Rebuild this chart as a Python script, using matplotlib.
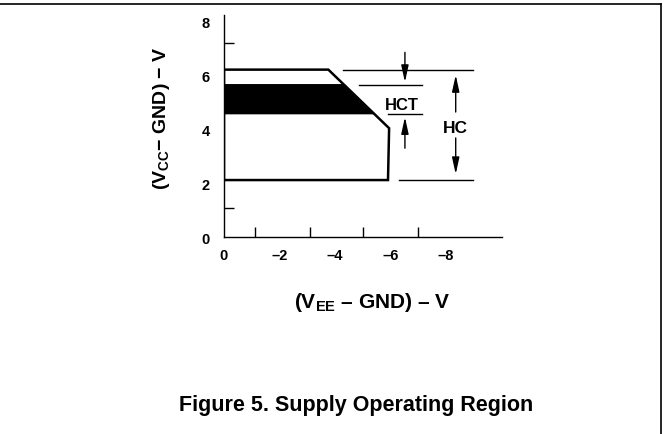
import matplotlib
matplotlib.use("Agg")
from matplotlib import pyplot as plt
from matplotlib import font_manager
from matplotlib.patches import Polygon

# values (V_EE - GND on x, V_CC - GND on y)
hc_x = [0, 0, -3.76, -5.95, -5.91]
hc_y = [2.12, 6.21, 6.21, 4.04, 2.12]
hct_x = [0, 0, -4.33, -5.40]
hct_y = [4.58, 5.65, 5.65, 4.58]

x_labels = [0, -2, -4, -6, -8]
y_labels = [0, 2, 4, 6, 8]
x_ticks = [-1.12, -3.1, -5.0, -7.0]
y_ticks = [1.07, 7.2]

# dimension lines at the right: (y, x start, x end)
dim_lines = [(6.21, -4.29, -8.97), (5.65, -4.86, -7.13), (4.58, -5.91, -7.13), (2.12, -6.31, -8.97)]
# arrows: (x, tail y, tip y)
arrows = [(-6.52, 6.85, 5.75), (-6.52, 3.3, 4.45), (-8.35, 4.64, 6.01), (-8.35, 3.68, 2.34)]

names = [f.name for f in font_manager.fontManager.ttflist]
font = "Liberation Sans Narrow" if "Liberation Sans Narrow" in names else "Liberation Sans"
plt.rcParams["font.family"] = [font, "DejaVu Sans"]
plt.rcParams["mathtext.fontset"] = "custom"
plt.rcParams["mathtext.rm"] = font + ":bold"
plt.rcParams["mathtext.it"] = font + ":bold"
plt.rcParams["mathtext.bf"] = font + ":bold"
plt.rcParams["mathtext.default"] = "bf"

fig = plt.figure(figsize=(6.65, 4.35), dpi=100)
ax = fig.add_axes([224 / 665, 1 - 238.3 / 435, 277.5 / 665, 8.25 * 27 / 435])
ax.set_xlim(0, -10)
ax.set_ylim(0, 8.25)

for s in ["top", "right"]:
    ax.spines[s].set_visible(False)
for s in ["left", "bottom"]:
    ax.spines[s].set_linewidth(1.0)

ax.set_xticks(x_labels)
ax.set_xticklabels(["0" if v == 0 else "\u2013%d" % -v for v in x_labels])
ax.set_yticks(y_labels)
ax.set_yticklabels([str(v) for v in y_labels])
ax.tick_params(which="major", length=0, pad=8)
ax.tick_params(axis="y", which="major", pad=10)
ax.set_xticks(x_ticks, minor=True)
ax.set_yticks(y_ticks, minor=True)
ax.tick_params(which="minor", direction="in", length=7, width=1.0)
for lab in ax.get_xticklabels() + ax.get_yticklabels():
    lab.set_fontweight("bold")
    lab.set_fontsize(10.5)

ax.add_patch(Polygon(list(zip(hct_x, hct_y)), closed=True, facecolor="black", edgecolor="black", lw=1))
ax.add_patch(Polygon(list(zip(hc_x, hc_y)), closed=True, fill=False, edgecolor="black", lw=1.8, joinstyle="miter"))

for y, x0, x1 in dim_lines:
    ax.plot([x0, x1], [y, y], color="black", lw=1.0, clip_on=False)
for x, y0, y1 in arrows:
    ax.annotate("", xy=(x, y1), xytext=(x, y0),
                arrowprops=dict(arrowstyle="-|>,head_length=1.0,head_width=0.22",
                                color="black", lw=1.0, shrinkA=0, shrinkB=0))

ax.text(-6.41, 4.93, "HCT", ha="center", va="center", fontsize=12, fontweight="bold")
ax.text(-8.35, 4.08, "HC", ha="center", va="center", fontsize=12.5, fontweight="bold")

fig.text(161 / 665, 1 - 118 / 435, "(V$_{CC}$\u2212 GND) \u2212 V",
         rotation=90, ha="center", va="center", fontsize=14, fontweight="bold")
fig.text(372 / 665, 1 - 302 / 435, "(V$_{EE}$ \u2013 GND) \u2013 V",
         ha="center", va="center", fontsize=15, fontweight="bold")
fig.text(356 / 665, 1 - 406 / 435, "Figure 5. Supply Operating Region",
         ha="center", va="center", fontsize=15.5, fontweight="bold")

# page frame: top and right edge
fig.add_artist(plt.Line2D([0, 661 / 665], [1 - 5 / 435] * 2, transform=fig.transFigure, color="black", lw=1.2))
fig.add_artist(plt.Line2D([661 / 665] * 2, [0, 1 - 5 / 435], transform=fig.transFigure, color="black", lw=1.2))

fig.savefig("out.png", dpi=100)
